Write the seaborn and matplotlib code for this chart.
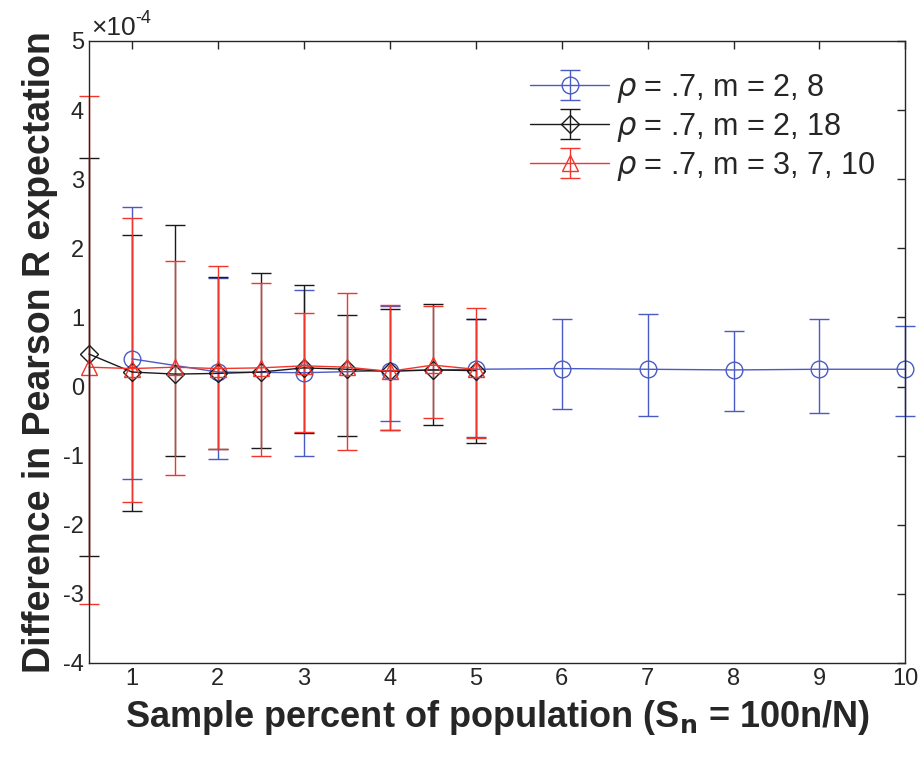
import numpy as np
import seaborn as sns
import matplotlib
matplotlib.use("Agg")
import matplotlib.pyplot as plt

# values in units of 1e-4
x_blue = [1, 2, 3, 4, 5, 6, 7, 8, 9, 10]
mean_blue = [0.40, 0.21, 0.20, 0.23, 0.25, 0.26, 0.25, 0.24, 0.25, 0.25]
top_blue = [2.60, 1.57, 1.39, 1.16, 0.97, 0.98, 1.05, 0.80, 0.97, 0.87]
bot_blue = [-1.34, -1.05, -1.00, -0.50, -0.73, -0.32, -0.42, -0.36, -0.38, -0.42]

x_half = [0.5, 1, 1.5, 2, 2.5, 3, 3.5, 4, 4.5, 5]
mean_black = [0.47, 0.21, 0.18, 0.19, 0.21, 0.27, 0.25, 0.22, 0.24, 0.23]
top_black = [3.31, 2.19, 2.34, 1.58, 1.64, 1.47, 1.03, 1.12, 1.19, 0.97]
bot_black = [-2.45, -1.80, -1.01, -0.90, -0.89, -0.67, -0.71, -0.63, -0.56, -0.81]

mean_red = [0.28, 0.26, 0.28, 0.26, 0.27, 0.30, 0.28, 0.22, 0.31, 0.25]
top_red = [4.20, 2.44, 1.81, 1.74, 1.50, 1.07, 1.36, 1.18, 1.16, 1.14]
bot_red = [-3.14, -1.67, -1.28, -0.90, -1.01, -0.66, -0.92, -0.63, -0.46, -0.74]

labels = [r"$\rho$ = .7, m = 2, 8", r"$\rho$ = .7, m = 2, 18", r"$\rho$ = .7, m = 3, 7, 10"]
yticks = [-4, -3, -2, -1, 0, 1, 2, 3, 4, 5]

sns.set_style("white")
plt.rcParams['font.family'] = ['Liberation Sans', 'DejaVu Sans']
plt.rcParams['mathtext.fontset'] = 'dejavusans'
plt.rcParams['axes.unicode_minus'] = False

fig = plt.figure(figsize=(9.22, 7.67), dpi=100)
ax = fig.add_axes([0.0965, 0.1356, 0.8855, 0.811])

series = [
    (x_blue, mean_blue, top_blue, bot_blue, '#4a5bc4', 'o', 12),
    (x_half, mean_black, top_black, bot_black, '#1a1a1a', 'D', 9),
    (x_half, mean_red, top_red, bot_red, '#f2352b', '^', 11),
]
for (xs, m, t, b, col, mk, ms), lab in zip(series, labels):
    m = np.array(m)
    err = [m - np.array(b), np.array(t) - m]
    cont = ax.errorbar(xs, m, yerr=err, color=col, marker=mk, ms=ms, mfc='none',
                       mec=col, mew=1.0, lw=1.0, capsize=7, elinewidth=1.0,
                       capthick=1.0, label=lab)
    for art in cont.get_children():
        art.set_clip_on(False)

ax.set_xlim(0.5, 10)
ax.set_ylim(-4, 5)
ax.set_xticks(range(1, 11))
ax.set_yticks(yticks, [str(v) for v in yticks])
ax.tick_params(direction='in', length=6, width=1, labelsize=17,
               top=True, right=True, colors='#262626')
for s in ax.spines.values():
    s.set_color('#262626')
    s.set_linewidth(1.0)

# exponent label, written as plain text so the minus stays a hyphen
ax.text(0.003, 1.0096, "\u00d710", transform=ax.transAxes,
        fontsize=19, color='#262626', ha='left', va='baseline')
ax.text(0.057, 1.029, "-4", transform=ax.transAxes,
        fontsize=13, color='#262626', ha='left', va='baseline')

ax.set_xlabel(r"Sample percent of population (S$_\mathbf{n}$ = 100n/N)",
              fontsize=26, fontweight='bold', labelpad=6)
ax.set_ylabel("Difference in Pearson R expectation", fontsize=27,
              fontweight='bold', labelpad=4)

leg = ax.legend(loc='upper right', fontsize=22, frameon=False,
                handlelength=2.6, handletextpad=0.2, labelspacing=0.2,
                borderaxespad=0.7, borderpad=0.3)

fig.savefig("out.png", dpi=100)
